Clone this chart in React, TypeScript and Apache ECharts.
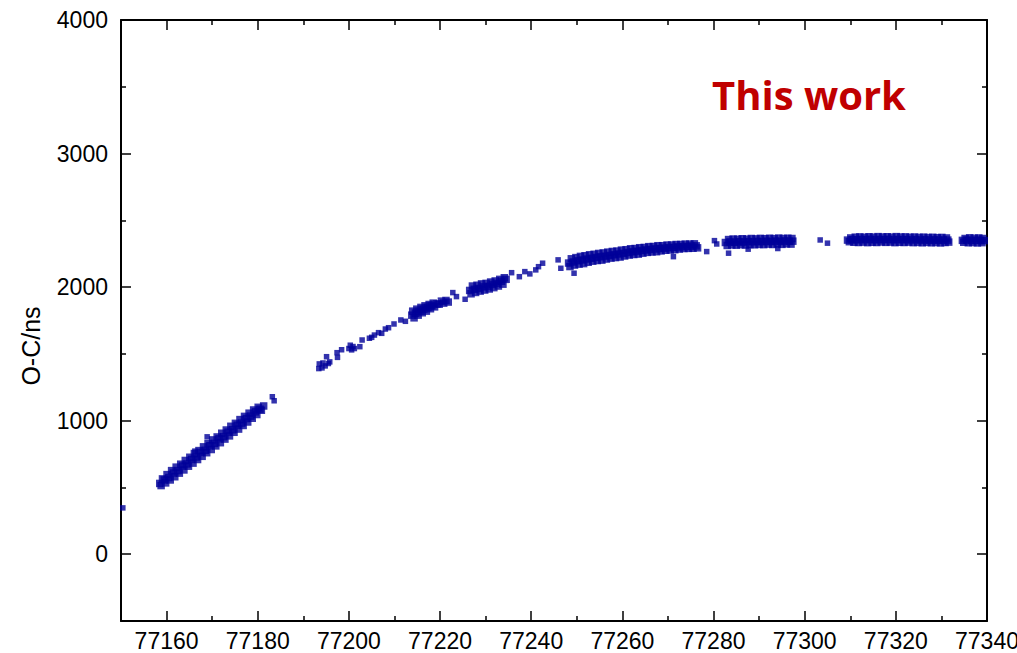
import React, { useEffect, useRef } from "react";
import * as echarts from "echarts";

type Pt = [number, number];

// Tick positions
const xMajorTicks = [77160, 77180, 77200, 77220, 77240, 77260, 77280, 77300, 77320, 77340];
const xMinorTicks = [77170, 77190, 77210, 77230, 77250, 77270, 77290, 77310, 77330];
const yMajorTicks = [0, 1000, 2000, 3000, 4000];
const yMinorTicks = [500, 1500, 2500, 3500];

// Observed O-C (ns) against epoch — dense groups
const firstBandLower: Pt[] = [
  [77158.8, 514], [77159.8, 534], [77160.8, 556], [77161.8, 580], [77162.8, 607], [77163.8, 631],
  [77164.8, 659], [77165.8, 682], [77166.8, 709], [77167.8, 733], [77168.8, 760], [77169.8, 784],
  [77170.8, 811], [77171.8, 835], [77172.8, 862], [77173.8, 886], [77174.8, 913], [77175.8, 937],
  [77176.8, 964], [77177.8, 990], [77178.8, 1018], [77179.8, 1046], [77180.8, 1078],
];
const firstBandMiddle: Pt[] = [
  [77158.5, 530], [77159.5, 556], [77160.5, 574], [77161.5, 608], [77162.5, 626], [77163.5, 660],
  [77164.5, 676], [77165.5, 710], [77166.5, 728], [77167.5, 762], [77168.5, 778], [77169.5, 812],
  [77170.5, 830], [77171.5, 864], [77172.5, 880], [77173.5, 914], [77174.5, 932], [77175.5, 966],
  [77176.5, 982], [77177.5, 1016], [77178.5, 1034], [77179.5, 1066], [77180.5, 1086], [77181.3, 1110],
];
const firstBandUpper: Pt[] = [
  [77159.1, 564], [77160.1, 596], [77161.1, 626], [77162.1, 652], [77163.1, 674], [77164.1, 702],
  [77165.1, 726], [77166.1, 754], [77167.1, 776], [77168.1, 804], [77169.1, 828], [77170.1, 856],
  [77171.1, 878], [77172.1, 906], [77173.1, 930], [77174.1, 958], [77175.1, 980], [77176.1, 1008],
  [77177.1, 1032], [77178.1, 1056], [77179.1, 1080], [77180.1, 1100],
];

const thirdClusterCore: Pt[] = [
  [77213.8, 1790], [77214.0, 1820], [77214.3, 1770], [77214.6, 1805], [77214.9, 1835],
  [77215.2, 1790], [77215.5, 1820], [77215.8, 1848], [77216.1, 1808], [77216.4, 1835],
  [77216.7, 1860], [77217.0, 1820], [77217.3, 1848], [77217.6, 1870], [77217.9, 1838],
  [77218.2, 1860], [77218.5, 1880], [77218.8, 1852], [77219.3, 1874],
  [77219.8, 1872], [77220.3, 1895], [77220.8, 1880], [77221.3, 1900], [77221.8, 1888],
];

const fourthClusterCore: Pt[] = [
  [77226.8, 1950], [77227.8, 1960], [77228.8, 1970], [77229.8, 1978], [77230.8, 1986],
  [77231.8, 1996], [77232.8, 2008], [77233.8, 2022],
  [77226.5, 1975], [77227.5, 1984], [77228.5, 1990], [77229.5, 2002], [77230.5, 2006],
  [77231.5, 2020], [77232.5, 2028], [77233.5, 2044], [77234.5, 2058],
  [77227.1, 2008], [77228.1, 2014], [77229.1, 2024], [77230.1, 2028], [77231.1, 2038],
  [77232.1, 2046], [77233.1, 2058], [77234.1, 2070],
];

const mainBandLower: Pt[] = [
  [77248.5, 2154], [77249.5, 2165], [77250.5, 2172], [77251.5, 2176], [77252.5, 2186],
  [77253.5, 2194], [77254.5, 2199], [77255.5, 2202], [77256.5, 2210], [77257.5, 2217],
  [77258.5, 2221], [77259.5, 2225], [77260.5, 2233], [77261.5, 2240], [77262.5, 2244],
  [77263.5, 2247], [77264.5, 2254], [77265.5, 2260], [77266.5, 2263], [77267.5, 2265],
  [77268.5, 2271], [77269.5, 2276], [77270.5, 2278], [77271.5, 2280], [77272.5, 2285],
  [77273.5, 2289], [77274.5, 2290], [77275.5, 2291], [77276.5, 2294],
];
const mainBandMiddle: Pt[] = [
  [77248.2, 2180], [77249.2, 2188], [77250.2, 2197], [77251.2, 2203], [77252.2, 2210],
  [77253.2, 2216], [77254.2, 2222], [77255.2, 2227], [77256.2, 2232], [77257.2, 2237],
  [77258.2, 2242], [77259.2, 2248], [77260.2, 2253], [77261.2, 2259], [77262.2, 2264],
  [77263.2, 2269], [77264.2, 2274], [77265.2, 2278], [77266.2, 2282], [77267.2, 2286],
  [77268.2, 2289], [77269.2, 2292], [77270.2, 2295], [77271.2, 2298], [77272.2, 2301],
  [77273.2, 2303], [77274.2, 2305], [77275.2, 2307], [77276.2, 2309],
];
const mainBandUpper: Pt[] = [
  [77248.8, 2212], [77249.8, 2221], [77250.8, 2230], [77251.8, 2235], [77252.8, 2242],
  [77253.8, 2246], [77254.8, 2252], [77255.8, 2256], [77256.8, 2262], [77257.8, 2267],
  [77258.8, 2270], [77259.8, 2277], [77260.8, 2280], [77261.8, 2287], [77262.8, 2289],
  [77263.8, 2295], [77264.8, 2297], [77265.8, 2303], [77266.8, 2304], [77267.8, 2310],
  [77268.8, 2310], [77269.8, 2315], [77270.8, 2315], [77271.8, 2319], [77272.8, 2319],
  [77273.8, 2322], [77274.8, 2322], [77275.8, 2324],
];

const plateauALower: Pt[] = [
  [77283.0, 2312], [77284.0, 2316], [77285.0, 2314], [77286.0, 2318], [77287.0, 2315],
  [77288.0, 2319], [77289.0, 2317], [77290.0, 2320], [77291.0, 2318], [77292.0, 2322],
  [77293.0, 2319], [77294.0, 2323], [77295.0, 2320], [77296.0, 2324], [77297.0, 2322],
];
const plateauAMiddle: Pt[] = [
  [77282.6, 2334], [77283.6, 2338], [77284.6, 2336], [77285.6, 2340], [77286.6, 2337],
  [77287.6, 2341], [77288.6, 2339], [77289.6, 2343], [77290.6, 2340], [77291.6, 2344],
  [77292.6, 2341], [77293.6, 2345], [77294.6, 2342], [77295.6, 2346], [77296.6, 2343],
  [77297.4, 2344],
];
const plateauAUpper: Pt[] = [
  [77283.3, 2356], [77284.3, 2360], [77285.3, 2358], [77286.3, 2362], [77287.3, 2359],
  [77288.3, 2364], [77289.3, 2361], [77290.3, 2365], [77291.3, 2362], [77292.3, 2366],
  [77293.3, 2363], [77294.3, 2367], [77295.3, 2364], [77296.3, 2366], [77297.2, 2364],
];

const plateauBLower: Pt[] = [
  [77309.8, 2340], [77310.8, 2336], [77311.8, 2334], [77312.8, 2337], [77313.8, 2333],
  [77314.8, 2336], [77315.8, 2334], [77316.8, 2338], [77317.8, 2335], [77318.8, 2337],
  [77319.8, 2333], [77320.8, 2336], [77321.8, 2334], [77322.8, 2337], [77323.8, 2333],
  [77324.8, 2335], [77325.8, 2332], [77326.8, 2335], [77327.8, 2332], [77328.8, 2334],
  [77329.8, 2331], [77330.8, 2334], [77331.6, 2337],
];
const plateauBMiddle: Pt[] = [
  [77309.4, 2352], [77310.4, 2355], [77311.4, 2354], [77312.4, 2357], [77313.4, 2355],
  [77314.4, 2358], [77315.4, 2354], [77316.4, 2357], [77317.4, 2355], [77318.4, 2358],
  [77319.4, 2354], [77320.4, 2357], [77321.4, 2355], [77322.4, 2356], [77323.4, 2353],
  [77324.4, 2356], [77325.4, 2352], [77326.4, 2355], [77327.4, 2351], [77328.4, 2354],
  [77329.4, 2351], [77330.4, 2353], [77331.4, 2352],
];
const plateauBUpper: Pt[] = [
  [77310.1, 2368], [77311.1, 2374], [77312.1, 2376], [77313.1, 2373], [77314.1, 2377],
  [77315.1, 2374], [77316.1, 2378], [77317.1, 2375], [77318.1, 2377], [77319.1, 2374],
  [77320.1, 2378], [77321.1, 2375], [77322.1, 2376], [77323.1, 2373], [77324.1, 2375],
  [77325.1, 2372], [77326.1, 2374], [77327.1, 2371], [77328.1, 2373], [77329.1, 2370],
  [77330.1, 2372], [77331.1, 2368],
];

const plateauCPoints: Pt[] = [
  [77334.9, 2336], [77335.9, 2332], [77336.9, 2334], [77337.9, 2331], [77338.9, 2333],
  [77334.6, 2350], [77335.6, 2352], [77336.6, 2349], [77337.6, 2351], [77338.6, 2350], [77339.4, 2348],
  [77335.2, 2364], [77336.2, 2369], [77337.2, 2366], [77338.2, 2368], [77339.1, 2364],
];

// Observed O-C (ns) against epoch — sparse points
const isolatedStart: Pt[] = [[77150.4, 347]];
const firstBandStray: Pt[] = [
  [77166.2, 772], [77168.9, 879], [77183.2, 1179], [77183.6, 1149],
];
const secondSegment: Pt[] = [
  [77193.4, 1390], [77193.5, 1425], [77194.1, 1395], [77194.3, 1432], [77194.8, 1410],
  [77195.1, 1479], [77195.5, 1428], [77195.8, 1440],
  [77197.4, 1509], [77197.5, 1474], [77198.4, 1531],
  [77200.0, 1540], [77200.3, 1565], [77200.6, 1530], [77200.9, 1555], [77201.2, 1540],
  [77202.4, 1554], [77202.9, 1604], [77204.5, 1617], [77205.0, 1624], [77205.6, 1641],
  [77206.5, 1659], [77207.2, 1654], [77208.0, 1686], [77208.7, 1696], [77209.9, 1724],
  [77211.4, 1754], [77212.4, 1744],
];
const clusterStray: Pt[] = [
  [77222.8, 1959], [77223.6, 1929], [77225.5, 1909],
  [77235.7, 2108], [77237.4, 2078], [77238.6, 2116], [77239.7, 2099], [77241.0, 2129],
  [77241.6, 2153], [77242.5, 2179], [77245.9, 2204], [77246.5, 2141], [77249.4, 2104],
];
const mainBandStray: Pt[] = [
  [77271.2, 2228], [77278.5, 2266], [77280.2, 2348], [77280.7, 2323], [77283.3, 2254],
  [77287.6, 2284], [77294.1, 2289],
];
const plateauGap: Pt[] = [[77303.4, 2353], [77305.0, 2329]];

const densePoints: Pt[] = [
  ...firstBandLower, ...firstBandMiddle, ...firstBandUpper,
  ...thirdClusterCore, ...fourthClusterCore,
  ...mainBandLower, ...mainBandMiddle, ...mainBandUpper,
  ...plateauALower, ...plateauAMiddle, ...plateauAUpper,
  ...plateauBLower, ...plateauBMiddle, ...plateauBUpper,
  ...plateauCPoints,
];
const sparsePoints: Pt[] = [
  ...isolatedStart, ...firstBandStray, ...secondSegment, ...clusterStray,
  ...mainBandStray, ...plateauGap,
];

const FONT = '"Liberation Sans", Arial, sans-serif';
const POINT_COLOR = "#000099";

export default function App() {
  const ref = useRef<HTMLDivElement>(null);

  useEffect(() => {
    if (!ref.current) return;
    const chart = echarts.init(ref.current, undefined, { renderer: "svg" });

    const xBase = {
      type: "value" as const,
      min: 77150,
      max: 77340,
      splitLine: { show: false },
    };
    const yBase = {
      type: "value" as const,
      min: -500,
      max: 4000,
      splitLine: { show: false },
    };
    const lineOn = { show: true, onZero: false, lineStyle: { color: "#000", width: 2 } };
    const lineOff = { show: false, onZero: false };
    const tickStyle = { color: "#000", width: 1.5 };
    const plain = (v: number) => String(v);

    chart.setOption({
      animation: false,
      backgroundColor: "#fff",
      grid: { left: 121, right: 30, top: 20, bottom: 32, containLabel: false, outerBoundsMode: "none" },
      xAxis: [
        {
          ...xBase,
          position: "bottom",
          axisLine: lineOn,
          axisTick: { show: true, inside: true, length: 10, customValues: xMajorTicks, lineStyle: tickStyle },
          axisLabel: { show: true, customValues: xMajorTicks, formatter: plain, fontSize: 23, fontFamily: FONT, color: "#000", margin: 8, hideOverlap: false },
        },
        {
          ...xBase,
          position: "bottom",
          axisLine: lineOff,
          axisTick: { show: true, inside: true, length: 5, customValues: xMinorTicks, lineStyle: tickStyle },
          axisLabel: { show: false },
        },
        {
          ...xBase,
          position: "top",
          axisLine: lineOn,
          axisTick: { show: true, inside: true, length: 10, customValues: xMajorTicks, lineStyle: tickStyle },
          axisLabel: { show: false },
        },
        {
          ...xBase,
          position: "top",
          axisLine: lineOff,
          axisTick: { show: true, inside: true, length: 5, customValues: xMinorTicks, lineStyle: tickStyle },
          axisLabel: { show: false },
        },
      ],
      yAxis: [
        {
          ...yBase,
          position: "left",
          axisLine: lineOn,
          axisTick: { show: true, inside: true, length: 10, customValues: yMajorTicks, lineStyle: tickStyle },
          axisLabel: { show: true, customValues: yMajorTicks, formatter: plain, fontSize: 23, fontFamily: FONT, color: "#000", margin: 13 },
        },
        {
          ...yBase,
          position: "left",
          axisLine: lineOff,
          axisTick: { show: true, inside: true, length: 5, customValues: yMinorTicks, lineStyle: tickStyle },
          axisLabel: { show: false },
        },
        {
          ...yBase,
          position: "right",
          axisLine: lineOn,
          axisTick: { show: true, inside: true, length: 10, customValues: yMajorTicks, lineStyle: tickStyle },
          axisLabel: { show: false },
        },
        {
          ...yBase,
          position: "right",
          axisLine: lineOff,
          axisTick: { show: true, inside: true, length: 5, customValues: yMinorTicks, lineStyle: tickStyle },
          axisLabel: { show: false },
        },
      ],
      graphic: [
        {
          type: "text",
          x: 31,
          y: 346,
          rotation: Math.PI / 2,
          style: {
            text: "O-C/ns",
            fill: "#000",
            fontSize: 25,
            fontFamily: FONT,
            align: "center",
            verticalAlign: "middle",
          },
        },
        {
          type: "text",
          x: 712,
          y: 94,
          style: {
            text: "This work",
            fill: "#C00000",
            fontSize: 40,
            fontWeight: "bold",
            fontFamily: '"Open Sans", sans-serif',
            align: "left",
            verticalAlign: "middle",
          },
        },
      ],
      series: [
        {
          type: "scatter",
          xAxisIndex: 0,
          yAxisIndex: 0,
          symbol: "rect",
          symbolSize: 7.5,
          silent: true,
          clip: true,
          itemStyle: { color: POINT_COLOR },
          data: densePoints,
        },
        {
          type: "scatter",
          xAxisIndex: 0,
          yAxisIndex: 0,
          symbol: "rect",
          symbolSize: 5.5,
          silent: true,
          clip: true,
          itemStyle: { color: POINT_COLOR },
          data: sparsePoints,
        },
      ],
    });

    return () => chart.dispose();
  }, []);

  return (
    <div
      ref={ref}
      style={{ position: "absolute", left: 0, top: 0, width: 1017, height: 653, background: "#fff" }}
    />
  );
}
